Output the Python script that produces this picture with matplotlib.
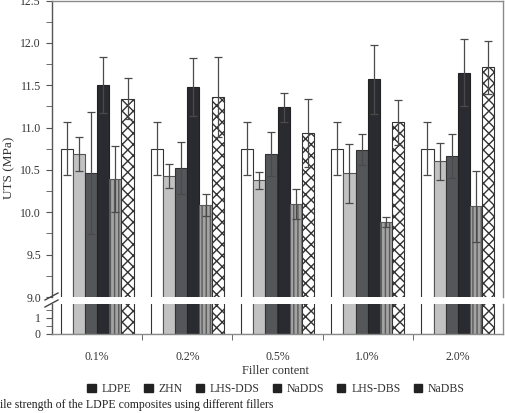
import numpy as np
import matplotlib
matplotlib.use("Agg")
import matplotlib.pyplot as plt
import matplotlib.ticker as mticker
from matplotlib.patches import Patch
from matplotlib.lines import Line2D

plt.rcParams['font.family'] = ['Liberation Serif', 'DejaVu Serif']
plt.rcParams['font.size'] = 8.5

# data (MPa)
contents = ['0.1%', '0.2%', '0.5%', '1.0%', '2.0%']
fillers = ['LDPE', 'ZHN', 'LHS-DDS', 'NaDDS', 'LHS-DBS', 'NaDBS']

ldpe = [10.75, 10.75, 10.75, 10.75, 10.75]
ldpe_err = [0.31, 0.31, 0.31, 0.31, 0.31]
zhn = [10.69, 10.43, 10.38, 10.46, 10.60]
zhn_err = [0.20, 0.14, 0.10, 0.35, 0.22]
lhs_dds = [10.46, 10.52, 10.69, 10.74, 10.67]
lhs_dds_err = [0.72, 0.31, 0.26, 0.18, 0.26]
naddds = [11.50, 11.48, 11.24, 11.57, 11.65]
naddds_err = [0.33, 0.34, 0.17, 0.41, 0.40]
lhs_dbs = [10.39, 10.09, 10.10, 9.89, 10.07]
lhs_dbs_err = [0.39, 0.13, 0.18, 0.06, 0.42]
nadbs = [11.34, 11.36, 10.94, 11.06, 11.71]
nadbs_err = [0.24, 0.47, 0.40, 0.26, 0.31]

series = [ldpe, zhn, lhs_dds, naddds, lhs_dbs, nadbs]
errors = [ldpe_err, zhn_err, lhs_dds_err, naddds_err, lhs_dbs_err, nadbs_err]

# bar styles
faces = ['white', '#c2c2c2', '#55565a', '#2a2b30', '#a3a3a3', 'white']
edges = ['#333333', '#555555', '#333333', '#222222', '#5a5a5a', '#333333']
hatches = [None, None, None, None, '||||', 'xxx']

W, H = 506, 413
fig = plt.figure(figsize=(W/100, H/100), dpi=100, facecolor='w')
left, right = 52/W, 503/W
ax_up = fig.add_axes([left, 1-297/H, right-left, 297/H - 0.5/H])
ax_lo = fig.add_axes([left, 1-334/H, right-left, 30/H])

x = np.arange(len(contents))
bw = 0.135
for ax in (ax_up, ax_lo):
    for i, (vals, errs) in enumerate(zip(series, errors)):
        pos = x + (i - 2.5)*bw
        ax.bar(pos, vals, bw, color=faces[i], edgecolor=edges[i],
               hatch=hatches[i], linewidth=0.8, zorder=2)
        if ax is ax_up:
            ax.errorbar(pos, vals, yerr=errs, fmt='none', ecolor='#4a4a4a',
                        elinewidth=0.9, capsize=3, capthick=0.9, zorder=3)
    ax.set_xlim(-0.5, 4.5)
    for s in ax.spines.values():
        s.set_color('#8a8a8a')
        s.set_linewidth(1.0)
    ax.spines['left'].set_color('#555555')
    ax.tick_params(axis='y', which='both', direction='out', length=4, pad=4,
                   color='#555555', labelcolor='#333333', labelsize=8.5)

ax_up.set_ylim(9.0, 12.5)
ax_up.yaxis.set_major_locator(mticker.MultipleLocator(0.5))
ax_up.yaxis.set_minor_locator(mticker.MultipleLocator(0.25))
ax_up.yaxis.set_major_formatter(mticker.FormatStrFormatter('%.1f'))
ax_up.spines['bottom'].set_visible(False)
ax_up.tick_params(axis='x', which='both', bottom=False, labelbottom=False)

ax_lo.set_ylim(0, 1.875)
ax_lo.set_yticks([0, 1])
ax_lo.yaxis.set_minor_locator(mticker.FixedLocator([0.5, 1.5]))
ax_lo.spines['top'].set_visible(False)
ax_lo.set_xticks(x)
ax_lo.set_xticklabels(contents)
ax_lo.xaxis.set_minor_locator(mticker.FixedLocator(x[:-1] + 0.5))
ax_lo.tick_params(axis='x', which='major', length=0, pad=12,
                  labelcolor='#333333', labelsize=8.5)
ax_lo.tick_params(axis='x', which='minor', length=4, direction='out', color='#555555')

# axis break marks
for y0 in (300, 307):
    fig.add_artist(Line2D([45/W, 58/W], [1-y0/H, 1-(y0-7)/H],
                          color='#444444', linewidth=1.0))

fig.text(9/W, 1-168/H, 'UTS (MPa)', rotation=90, ha='center', va='center',
         color='#333333', fontsize=9.5)
fig.text(276/W, 1-371/H, 'Filler content', ha='center', va='center',
         color='#333333', fontsize=9)

handles = [Patch(facecolor='#222222', edgecolor='#222222') for _ in fillers]
fig.legend(handles, fillers, loc='center', bbox_to_anchor=(276/W, 1-389/H),
           ncol=6, frameon=False, handlelength=0.7, handleheight=0.7,
           handletextpad=0.5, columnspacing=1.1, labelcolor='#333333',
           fontsize=8.5, borderpad=0)

fig.text(0, 1-405/H, 'ile strength of the LDPE composites using different fillers',
         ha='left', va='center', color='#222222', fontsize=8.5)

fig.savefig('out.png', dpi=100)
